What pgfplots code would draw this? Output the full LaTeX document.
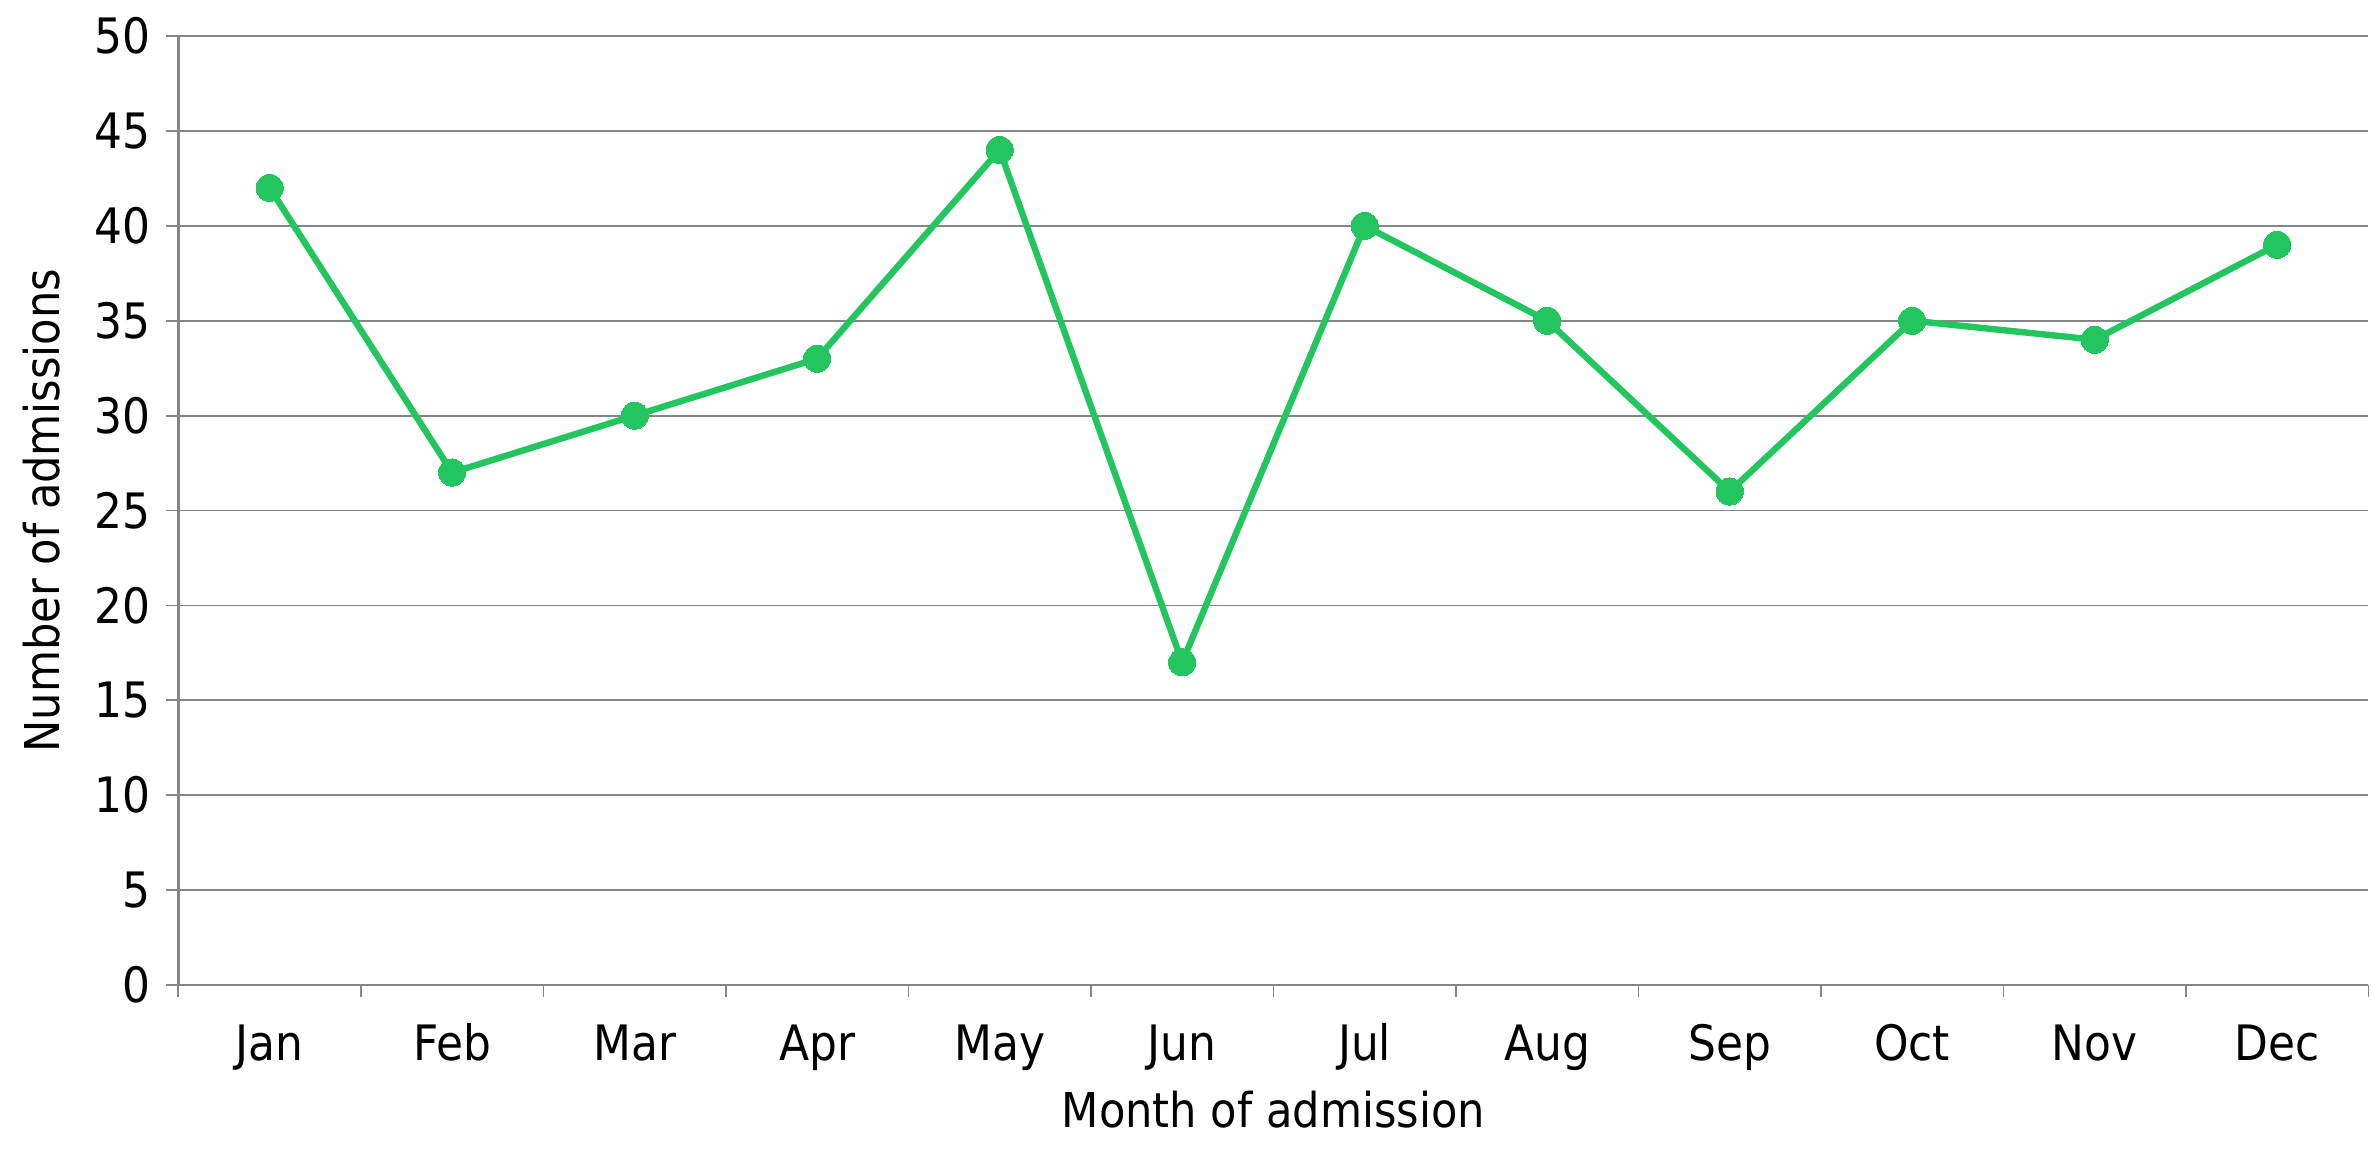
\documentclass[border=0pt]{standalone}
\usepackage{pgfplots}
\pgfplotsset{compat=1.18}
\usepackage{fontspec}
\setmainfont{DejaVu Sans Condensed}
\definecolor{lg}{RGB}{34,197,94}
\definecolor{gr}{RGB}{134,134,134}
\begin{document}
\begin{tikzpicture}
\path[use as bounding box] (-44.6pt,-42.5pt) rectangle (548.4pt,246.25pt);
\begin{axis}[
  at={(0,0)}, anchor=south west,
  scale only axis, width=547.5pt, height=237.25pt,
  xmin=0.5, xmax=12.5, ymin=0, ymax=50,
  axis x line*=bottom, axis y line*=left,
  axis line style={draw=gr, line width=0.6pt, -},
  ytick={0,5,...,50},
  ymajorgrids, grid style={draw=gr, line width=0.45pt},
  xtick={1,...,12},
  xticklabels={Jan,Feb,Mar,Apr,May,Jun,Jul,Aug,Sep,Oct,Nov,Dec},
  major x tick style={draw=none},
  extra x ticks={0.5,1.5,...,12.5},
  extra x tick labels={},
  extra x tick style={major tick length=3pt, tick align=outside, grid=none, major x tick style={draw=gr, line width=0.45pt}},
  major y tick style={draw=gr, line width=0.45pt},
  tick align=outside, major tick length=3pt,
  tick label style={font=\fontsize{12.2}{14}\selectfont},
  /pgf/number format/assume math mode=true,
  xticklabel style={anchor=base, inner sep=0pt, yshift=-15.75pt},
  yticklabel style={anchor=east, inner sep=0pt, xshift=-3.75pt},
  xlabel={Month of admission},
  ylabel={Number of admissions},
  label style={font=\fontsize{12}{14}\selectfont},
  xlabel style={at={(axis description cs:0.5,0)}, anchor=base, inner sep=0pt, yshift=-35.5pt},
  ylabel style={at={([xshift=-34.25pt]axis description cs:0,0.5)}, anchor=center, inner sep=0pt},
]
\addplot[color=lg, line width=1.6pt, mark=*, mark size=3.4pt, mark options={fill=lg, draw=lg, line width=0pt}]
coordinates {(1,42) (2,27) (3,30) (4,33) (5,44) (6,17) (7,40) (8,35) (9,26) (10,35) (11,34) (12,39)};
\end{axis}
\end{tikzpicture}
\end{document}
